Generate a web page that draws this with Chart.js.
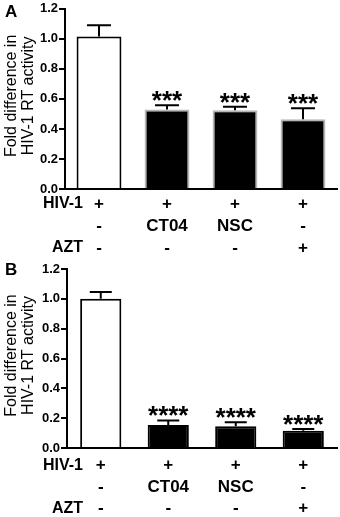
<!DOCTYPE html>
<html>
<head>
<meta charset="utf-8">
<script src="https://cdn.jsdelivr.net/npm/chart.js@4.4.0/dist/chart.umd.min.js"></script>
<style>
html, body { margin: 0; padding: 0; background: #fff; }
body { width: 340px; height: 517px; position: relative; overflow: hidden; font-family: "Liberation Sans", Arial, sans-serif; }
.panel { position: absolute; left: 0; }
.panel canvas { display: block; }
.letra { position: absolute; left: 5px; font-weight: bold; font-size: 17px; line-height: 17px; }
</style>
</head>
<body>
<div class="panel" style="top:0"><canvas id="graficoA" width="340" height="258"></canvas></div>
<div class="panel" style="top:258px"><canvas id="graficoB" width="340" height="259"></canvas></div>
<div class="letra" style="top:3px">A</div>
<div class="letra" style="top:261px">B</div>
<script>
// Filas de condiciones debajo del eje x
const filaHIV = ['+', '+', '+', '+'];
const filaCompuesto = ['-', 'CT04', 'NSC', '-'];
const filaAZT = ['-', '-', '-', '+'];
const nombresFilas = ['HIV-1', '', 'AZT'];

// Panel A
const valoresA = [1.015, 0.53, 0.525, 0.465];
const erroresA = [0.075, 0.028, 0.022, 0.072];
const estrellasA = ['', '***', '***', '***'];

// Panel B
const valoresB = [1.0, 0.155, 0.145, 0.115];
const erroresB = [0.045, 0.03, 0.027, 0.012];
const estrellasB = ['', '****', '****', '****'];

const ticksY = [0, 0.2, 0.4, 0.6, 0.8, 1.0, 1.2];
const tituloY = ['Fold difference in', 'HIV-1 RT activity'];

const fuente = '"Liberation Sans", Arial, sans-serif';
const etiquetas = filaHIV.map((h, i) => [h, filaCompuesto[i], filaAZT[i]]);

// Barras de error, asteriscos, nombres de filas y titulo del eje y
const pluginExtras = {
    id: 'extras',
    afterDatasetsDraw(chart, args, opts) {
        const ctx = chart.ctx;
        const meta = chart.getDatasetMeta(0);
        const escalaY = chart.scales.y;
        const datos = chart.data.datasets[0].data;
        ctx.save();
        ctx.strokeStyle = '#000';
        ctx.lineWidth = 2;
        meta.data.forEach((barra, i) => {
            const base = escalaY.getPixelForValue(datos[i]);
            const tope = escalaY.getPixelForValue(datos[i] + opts.errores[i]);
            ctx.beginPath();
            ctx.moveTo(barra.x, base);
            ctx.lineTo(barra.x, tope);
            ctx.moveTo(barra.x - opts.tapa, tope);
            ctx.lineTo(barra.x + opts.tapa, tope);
            ctx.stroke();

            ctx.fillStyle = '#000';
            ctx.font = 'bold 26px ' + fuente;
            ctx.textAlign = 'center';
            ctx.textBaseline = 'alphabetic';
            ctx.fillText(opts.estrellas[i], barra.x, tope + 4);
        });
        ctx.restore();
    },
    afterDraw(chart, args, opts) {
        const ctx = chart.ctx;
        const escalaX = chart.scales.x;
        const area = chart.chartArea;
        ctx.save();
        ctx.fillStyle = '#000';

        // nombres de filas
        ctx.font = 'bold 16px ' + fuente;
        ctx.textAlign = 'right';
        ctx.textBaseline = 'middle';
        nombresFilas.forEach((nombre, i) => {
            const y = escalaX.top + opts.paddingX + opts.alturaLinea * (i + 0.5);
            ctx.fillText(nombre, 83, y);
        });

        // titulo del eje y
        const cy = (area.top + area.bottom) / 2 - 3;
        ctx.font = '16px ' + fuente;
        ctx.textAlign = 'center';
        [12, 29].forEach((x, i) => {
            ctx.save();
            ctx.translate(x, cy);
            ctx.rotate(-Math.PI / 2);
            ctx.fillText(tituloY[i], 0, 0);
            ctx.restore();
        });
        ctx.restore();
    }
};

function crearGrafico(id, valores, errores, estrellas, cfg) {
    const ctx = document.getElementById(id).getContext('2d');
    return new Chart(ctx, {
        type: 'bar',
        data: {
            labels: etiquetas,
            datasets: [{
                data: valores,
                backgroundColor: ['#fff', '#000', '#000', '#000'],
                borderColor: cfg.bordes,
                borderWidth: 2,
                barPercentage: cfg.anchoBarra,
                categoryPercentage: 1
            }]
        },
        options: {
            responsive: false,
            devicePixelRatio: 1,
            animation: false,
            layout: { padding: { top: cfg.arriba, right: 3, left: 0, bottom: 0 } },
            plugins: {
                legend: { display: false },
                tooltip: { enabled: false },
                extras: {
                    errores: errores,
                    estrellas: estrellas,
                    tapa: cfg.tapa,
                    paddingX: cfg.paddingX,
                    alturaLinea: cfg.alturaLinea
                }
            },
            scales: {
                x: {
                    afterFit: s => { s.height = cfg.altoX; },
                    grid: { display: false, drawTicks: false },
                    border: { display: true, color: '#000', width: 2 },
                    ticks: {
                        color: '#000',
                        padding: cfg.paddingX,
                        maxRotation: 0,
                        autoSkip: false,
                        font: { family: fuente, size: 17, weight: 'bold', lineHeight: cfg.alturaLinea + 'px' }
                    }
                },
                y: {
                    min: 0,
                    max: 1.2,
                    afterFit: s => { s.width = cfg.anchoY; },
                    afterBuildTicks: s => { s.ticks = ticksY.map(v => ({ value: v })); },
                    grid: { drawOnChartArea: false, drawTicks: true, tickLength: 6, color: '#000', lineWidth: 2 },
                    border: { display: true, color: '#000', width: 2 },
                    ticks: {
                        color: '#000',
                        padding: 1,
                        font: { family: fuente, size: 13, weight: 'bold' },
                        callback: v => Number(v).toFixed(1)
                    }
                }
            }
        },
        plugins: [pluginExtras]
    });
}

crearGrafico('graficoA', valoresA, erroresA, estrellasA, {
    bordes: ['#000', '#b5b5b5', '#b5b5b5', '#b5b5b5'],
    anchoBarra: 0.66,
    arriba: 7,
    altoX: 69,
    anchoY: 65,
    paddingX: 4,
    alturaLinea: 22,
    tapa: 12
});

crearGrafico('graficoB', valoresB, erroresB, estrellasB, {
    bordes: ['#000', '#000', '#000', '#000'],
    anchoBarra: 0.61,
    arriba: 11,
    altoX: 69,
    anchoY: 67,
    paddingX: 7,
    alturaLinea: 21.5,
    tapa: 11
});
</script>
</body>
</html>
